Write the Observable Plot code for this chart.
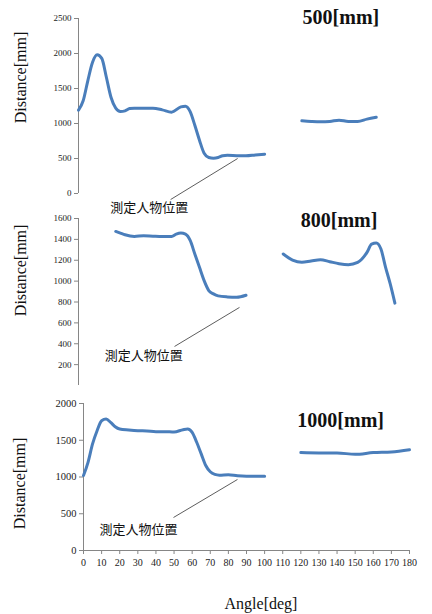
<!DOCTYPE html>
<html><head><meta charset="utf-8">
<script src="https://cdn.jsdelivr.net/npm/d3@7"></script>
<script src="https://cdn.jsdelivr.net/npm/@observablehq/plot@0.6"></script>
<style>
body{margin:0;background:#fff;}
#wrap{position:relative;width:432px;height:614px;overflow:hidden;}
#wrap svg{position:absolute;left:0;}
</style></head><body><div id="wrap"></div>
<script>
// 500 mm
const ang500L = [0,2.5,5,7.5,10,12.5,15,17.5,20,22.5,25,27.5,30,35,40,45,50,55,57.5,60,62.5,65,67.5,70,72.5,75,77.5,80,85,90,95,100];
const dist500L = [1190,1324,1610,1871,1981,1930,1657,1371,1219,1171,1181,1214,1219,1219,1219,1195,1162,1238,1248,1170,975,760,575,515,505,514,540,545,540,538,550,562];
const ang500R = [120,125,130,135,140,145,150,155,160];
const dist500R = [1038,1029,1024,1029,1048,1029,1029,1062,1090];
// 800 mm
const ang800L = [20,22.5,25,30,35,40,45,50,52.5,55,57.5,60,62.5,65,67.5,70,72.5,75,80,85,90];
const dist800L = [1476,1460,1444,1428,1435,1431,1428,1428,1450,1460,1450,1390,1260,1132,1005,910,878,859,849,846,865];
const ang800R = [110,115,120,125,130,135,140,145,150,155,157.5,160,162.5,165,167.5,170];
const dist800R = [1260,1202,1180,1193,1205,1186,1167,1158,1180,1275,1355,1365,1307,1132,973,789];
// 1000 mm
const ang1000L = [0,2.5,5,7.5,10,12.5,15,17.5,20,25,30,35,40,45,50,55,57.5,60,62.5,65,67.5,70,72.5,75,80,85,90,95,100];
const dist1000L = [1020,1200,1450,1630,1765,1788,1743,1684,1653,1640,1630,1626,1617,1617,1612,1644,1653,1608,1473,1315,1157,1071,1035,1025,1030,1016,1011,1011,1011];
const ang1000R = [120,130,140,150,160,170,180];
const dist1000R = [1332,1327,1327,1309,1332,1341,1372];

const ticks500 = [0,500,1000,1500,2000,2500];
const ticks800 = [200,400,600,800,1000,1200,1400,1600];
const ticks1000 = [0,500,1000,1500,2000];
const xTicks = d3.range(0, 181, 10);

const titles = ["500[mm]","800[mm]","1000[mm]"];
const yLabel = "Distance[mm]";
const xLabel = "Angle[deg]";
const note = "測定人物位置";

const LINE = "#4a7ebb";
const AXIS = "#868686";
const SERIF = "'Liberation Serif','Times New Roman',serif";
const CJK = "'Noto Sans CJK JP',sans-serif";

function seg(a, d, s) { return a.map((v, i) => ({angle: v, dist: d[i], seg: s})); }

function panel(cfg) {
  const data = [...seg(cfg.aL, cfg.dL, "L"), ...seg(cfg.aR, cfg.dR, "R")];
  const marks = [
    Plot.ruleX([0], {y1: cfg.yDomain[0], y2: cfg.yDomain[1], stroke: AXIS}),
    Plot.axisY({ticks: cfg.yTicks, tickSize: 4, tickPadding: 3, label: null, stroke: AXIS,
      fontSize: cfg.tickFont, fontFamily: SERIF, fill: "#222", tickFormat: d => String(d)}),
    Plot.line(data, {x: "angle", y: "dist", z: "seg", stroke: LINE, strokeWidth: 3, curve: "monotone-x"}),
    Plot.link([cfg.link], {x1: "x1", y1: "y1", x2: "x2", y2: "y2", stroke: "#333", strokeWidth: 0.8, clip: false}),
    Plot.text([note], {x: cfg.noteAt[0], y: cfg.noteAt[1], fontSize: 13, fontFamily: CJK, fill: "#111", clip: false}),
    Plot.text([cfg.title], {x: cfg.titleAt[0], y: cfg.titleAt[1], fontSize: 20, fontWeight: "bold", fontFamily: SERIF, fill: "#111"}),
    Plot.text([yLabel], {x: cfg.yLabAt[0], y: cfg.yLabAt[1], rotate: -90, fontSize: 16, fontFamily: SERIF, fill: "#111", clip: false})
  ];
  if (cfg.xAxis) {
    marks.push(Plot.ruleY([0], {x1: 0, x2: 180, stroke: AXIS}));
    marks.push(Plot.axisX({ticks: xTicks, tickSize: 4, tickPadding: 4, label: null, stroke: AXIS,
      fontSize: 10, fontFamily: SERIF, fill: "#222", tickFormat: d => String(d)}));
    marks.push(Plot.text([xLabel], {x: cfg.xLabAt[0], y: cfg.xLabAt[1], fontSize: 16, fontFamily: SERIF, fill: "#111", clip: false}));
  }
  const svg = Plot.plot({
    width: 432, height: cfg.height,
    marginLeft: cfg.ml, marginRight: cfg.mr, marginTop: cfg.mt, marginBottom: cfg.mb,
    style: {background: "transparent", overflow: "visible"},
    x: {domain: [0, 180], axis: null},
    y: {domain: cfg.yDomain, axis: null},
    marks
  });
  svg.style.top = cfg.top + "px";
  document.getElementById("wrap").appendChild(svg);
}

panel({top: 0, height: 200, ml: 78, mr: 19, mt: 18, mb: 7, yDomain: [0, 2500], yTicks: ticks500, tickFont: 9,
  aL: ang500L, dL: dist500L, aR: ang500R, dR: dist500R,
  link: {x1: 49.5, y1: -86, x2: 85.5, y2: 500}, noteAt: [38, -200],
  title: titles[0], titleAt: [141, 2514], yLabAt: [-31, 1657]});

panel({top: 200, height: 190, ml: 78, mr: 19, mt: 18, mb: 5, yDomain: [0, 1600], yTicks: ticks800, tickFont: 9,
  aL: ang800L, dL: dist800L, aR: ang800R, dR: dist800R,
  link: {x1: 51.6, y1: 374, x2: 86.5, y2: 748}, noteAt: [35, 288],
  title: titles[1], titleAt: [140, 1582], yLabAt: [-31, 1103]});

panel({top: 390, height: 224, ml: 83, mr: 23, mt: 13, mb: 64, yDomain: [0, 2000], yTicks: ticks1000, tickFont: 10.5,
  aL: ang1000L, dL: dist1000L, aR: ang1000R, dR: dist1000R,
  link: {x1: 49.7, y1: 449, x2: 85, y2: 966}, noteAt: [30.4, 286],
  title: titles[2], titleAt: [142, 1769], yLabAt: [-35, 912], xAxis: true, xLabAt: [98, -721]});
</script></body></html>
